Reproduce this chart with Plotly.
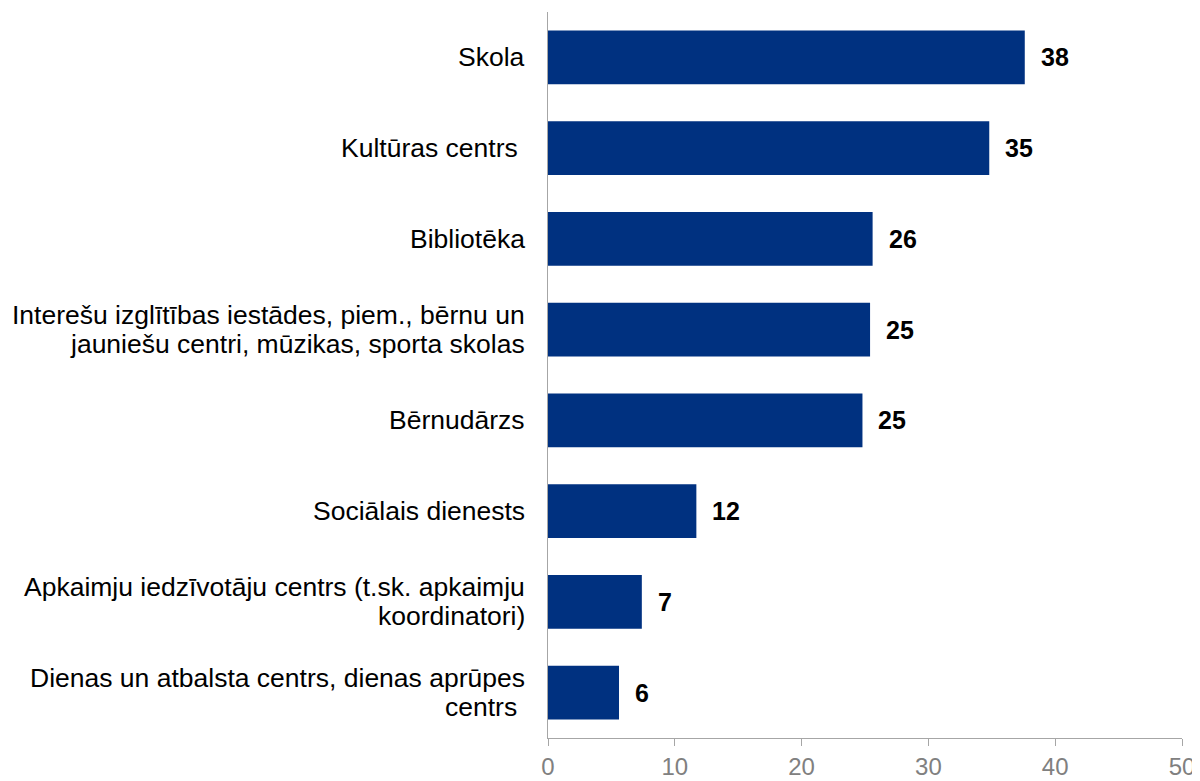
import plotly.graph_objects as go

categories = [
    "Skola",
    "Kultūras centrs ",
    "Bibliotēka",
    "Interešu izglītības iestādes, piem., bērnu un<br>jauniešu centri, mūzikas, sporta skolas",
    "Bērnudārzs",
    "Sociālais dienests",
    "Apkaimju iedzīvotāju centrs (t.sk. apkaimju<br>koordinatori)",
    "Dienas un atbalsta centrs, dienas aprūpes<br>centrs ",
]
values = [37.6, 34.8, 25.6, 25.4, 24.8, 11.7, 7.4, 5.6]
labels = ["38", "35", "26", "25", "25", "12", "7", "6"]
tick_vals = [0, 10, 20, 30, 40, 50]

FONT = "Liberation Sans, Arial"
fig = go.Figure()
fig.add_trace(go.Bar(
    y=categories, x=values, orientation="h",
    marker=dict(color="#003180", line=dict(width=0)),
    width=0.59,
))
for c, v, t in zip(categories, values, labels):
    fig.add_annotation(x=v, y=c, text=t, showarrow=False, xanchor="left",
                       xshift=14, font=dict(family=FONT, size=25, color="black", weight="bold"))
    lines = c.split("<br>")
    n = len(lines)
    for i, ln in enumerate(lines):
        fig.add_annotation(xref="paper", x=0, y=c, text=ln, showarrow=False,
                           xanchor="right", xshift=-21,
                           yshift=(n - 1) / 2 * 29 - i * 29,
                           font=dict(family=FONT, size=26.5, color="black"))

# page body has an 8px margin; size the figure to fill the 1200x781 window
fig.update_layout(
    width=1192, height=773,
    margin=dict(l=540, r=18, t=4, b=43),
    plot_bgcolor="white", paper_bgcolor="white",
    showlegend=False,
    font=dict(family=FONT, color="black"),
)
fig.update_xaxes(range=[0, 50], tickvals=tick_vals, showgrid=False, zeroline=False,
                 showline=True, linecolor="#a6a6a6", linewidth=1,
                 ticks="outside", ticklen=7, tickcolor="#a6a6a6",
                 tickfont=dict(size=24, color="#808080"), automargin=False)
fig.update_yaxes(autorange="reversed", showgrid=False, zeroline=False,
                 showline=True, linecolor="#a6a6a6", linewidth=1,
                 ticks="", showticklabels=False, automargin=False)
fig.write_html("out.html")
